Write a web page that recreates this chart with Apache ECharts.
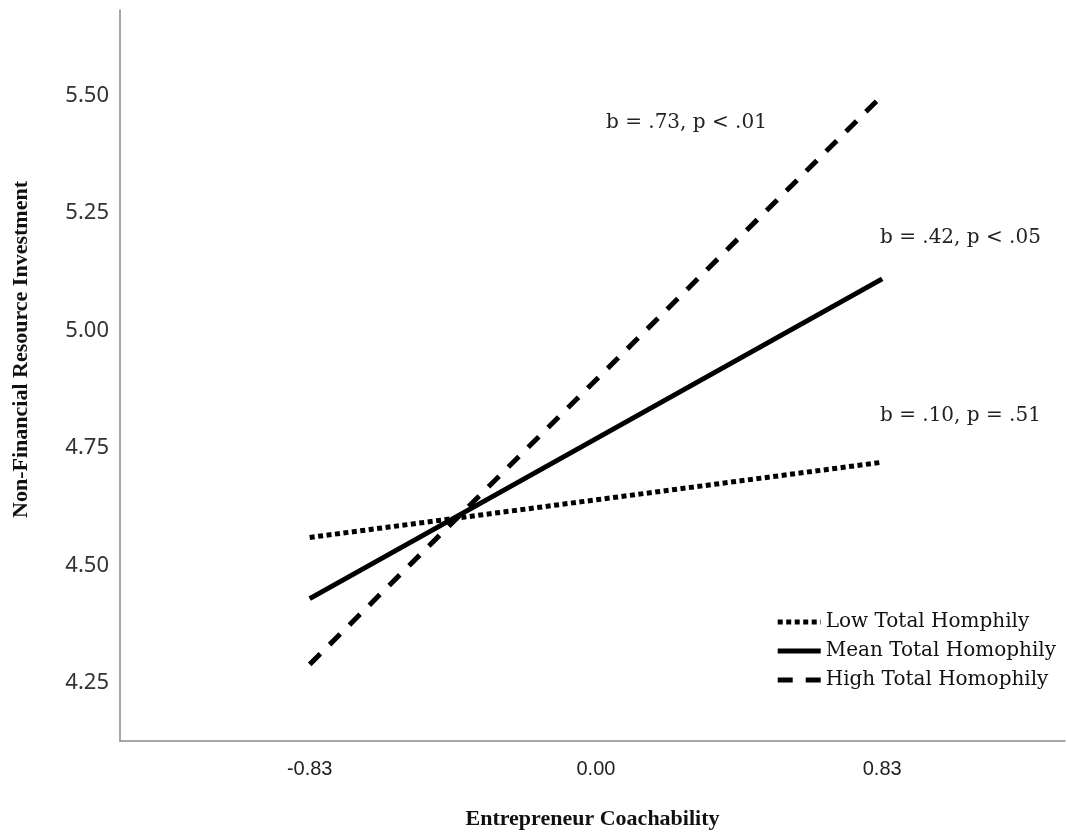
<!DOCTYPE html>
<html>
<head>
<meta charset="utf-8">
<script src="https://cdn.jsdelivr.net/npm/echarts@6/dist/echarts.min.js"></script>
<style>
  html, body { margin: 0; padding: 0; background: #fff; }
  #chart { width: 1067px; height: 835px; }
</style>
</head>
<body>
<div id="chart"></div>
<script>
// Simple-slopes plot: predicted outcome at low / high coachability
const xPoints = [-0.83, 0.83];
const xTicks = [-0.83, 0.00, 0.83];
const yTicks = [4.25, 4.50, 4.75, 5.00, 5.25, 5.50];

const seriesNames = ['Low Total Homphily', 'Mean Total Homophily', 'High Total Homophily'];
const lowValues = [4.56, 4.72];
const meanValues = [4.43, 5.11];
const highValues = [4.29, 5.50];

const slopeNotes = ['b = .10, p = .51', 'b = .42, p < .05', 'b = .73, p < .01'];

const serifBold = '"Liberation Serif", "Times New Roman", serif';
const serifText = '"DejaVu Serif", Georgia, serif';

const chart = echarts.init(document.getElementById('chart'), null, { renderer: 'canvas' });

function pairs(vals) {
  return xPoints.map((x, i) => [x, vals[i]]);
}

const dotted = [5, 3.5];
const dashed = [15, 13];

const option = {
  animation: false,
  backgroundColor: '#ffffff',
  grid: { left: 120, right: 2, top: 10, bottom: 92, containLabel: false },
  xAxis: {
    type: 'value',
    min: -1.38,
    max: 1.36,
    name: 'Entrepreneur Coachability',
    nameLocation: 'middle',
    nameGap: 67,
    nameTextStyle: { fontFamily: serifBold, fontWeight: 'bold', fontSize: 22, color: '#111' },
    axisLine: { show: true, onZero: false, lineStyle: { color: '#8a8a8a', width: 1.5 } },
    axisTick: { show: false },
    splitLine: { show: false },
    axisLabel: {
      customValues: xTicks,
      formatter: v => v.toFixed(2),
      margin: 18,
      fontFamily: '"Liberation Sans Narrow", "Liberation Sans", Arial, sans-serif',
      fontSize: 20,
      color: '#222'
    }
  },
  yAxis: {
    type: 'value',
    min: 4.127,
    max: 5.682,
    name: 'Non-Financial Resource Investment',
    nameLocation: 'middle',
    nameGap: 88,
    nameRotate: 90,
    nameTextStyle: {
      fontFamily: serifBold, fontWeight: 'bold', fontSize: 22, color: '#111',
      padding: [0, 0, 0, 52]
    },
    axisLine: { show: true, onZero: false, lineStyle: { color: '#8a8a8a', width: 1.5 } },
    axisTick: { show: false },
    splitLine: { show: false },
    axisLabel: {
      customValues: yTicks,
      formatter: v => v.toFixed(2),
      margin: 11,
      fontFamily: '"Noto Sans", "Open Sans", sans-serif',
      fontSize: 22,
      color: '#333'
    }
  },
  legend: {
    orient: 'vertical',
    right: 6,
    top: 607,
    itemWidth: 43,
    itemHeight: 14,
    itemGap: 9,
    itemStyle: { opacity: 0 },
    lineStyle: { width: 5 },
    textStyle: { fontFamily: serifText, fontSize: 20, color: '#111' },
    data: seriesNames
  },
  series: [
    {
      name: seriesNames[0],
      type: 'line',
      data: pairs(lowValues),
      symbol: 'none',
      itemStyle: { color: '#000' },
      lineStyle: { color: '#000', width: 5, type: dotted, cap: 'butt' }
    },
    {
      name: seriesNames[1],
      type: 'line',
      data: pairs(meanValues),
      symbol: 'none',
      itemStyle: { color: '#000' },
      lineStyle: { color: '#000', width: 5, type: 'solid', cap: 'butt' }
    },
    {
      name: seriesNames[2],
      type: 'line',
      data: pairs(highValues),
      symbol: 'none',
      itemStyle: { color: '#000' },
      lineStyle: { color: '#000', width: 5, type: dashed, cap: 'butt' }
    }
  ],
  graphic: [
    { type: 'text', left: 880, top: 406, style: { text: slopeNotes[0], font: '20px ' + serifText, fill: '#222' } },
    { type: 'text', left: 880, top: 228, style: { text: slopeNotes[1], font: '20px ' + serifText, fill: '#222' } },
    { type: 'text', left: 606, top: 113, style: { text: slopeNotes[2], font: '20px ' + serifText, fill: '#222' } }
  ]
};

chart.setOption(option);
</script>
</body>
</html>
